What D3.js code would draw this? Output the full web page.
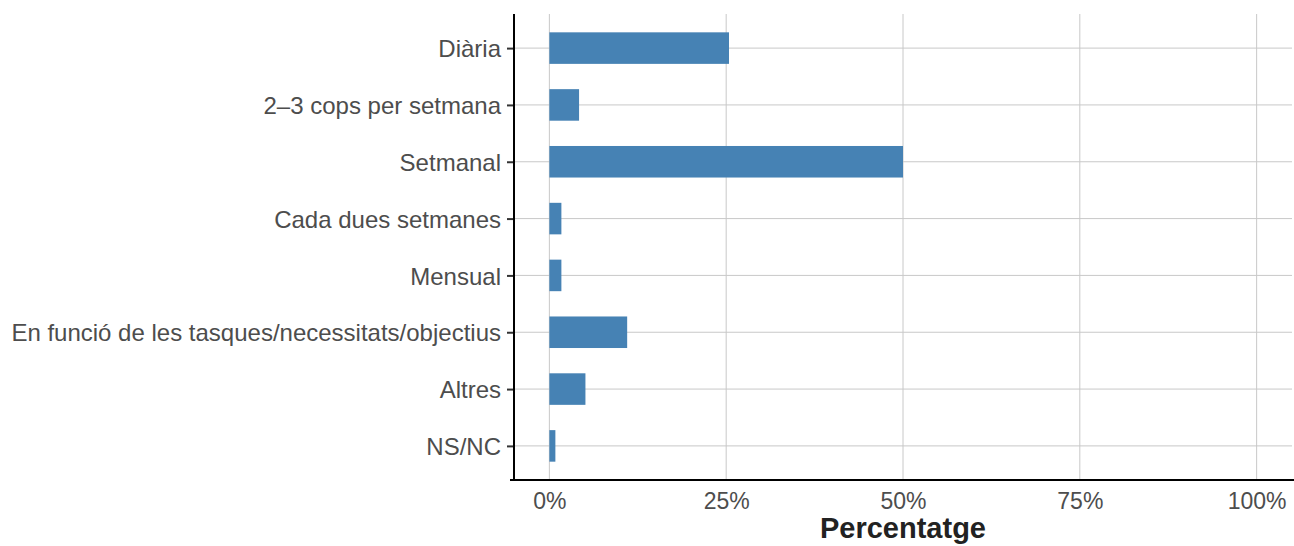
<!DOCTYPE html>
<html>
<head>
<meta charset="utf-8">
<script src="https://cdn.jsdelivr.net/npm/d3@7"></script>
<style>
  body { margin: 0; background: #fff; }
  text { font-family: "Liberation Sans", Arial, sans-serif; }
</style>
</head>
<body>
<div id="chart-area"></div>
<script>

// frequency categories and share of answers (%)
let categories = ["Diària", "2–3 cops per setmana", "Setmanal", "Cada dues setmanes",
	"Mensual", "En funció de les tasques/necessitats/objectius", "Altres", "NS/NC"];
let percentages = [25.4, 4.2, 50.0, 1.7, 1.7, 11.0, 5.1, 0.85];
let xTicks = [0, 25, 50, 75, 100];

let data = categories.map((c, i) => ({category: c, value: percentages[i]}));

let margin = {top: 14, right: 2, bottom: 66, left: 514};
let width = 1294 - margin.left - margin.right;
let height = 546 - margin.top - margin.bottom;

let svg = d3.select("#chart-area").append("svg")
		.attr("width", 1294)
		.attr("height", 546)
	.append("g")
		.attr("transform", "translate(" + margin.left + "," + margin.top + ")");

let x = d3.scaleLinear()
	.domain([-5, 105])
	.range([0, width]);

let y = d3.scalePoint()
	.domain(categories)
	.range([0, height])
	.padding(0.6);

let barHeight = y.step() * 0.555;

// grid lines
svg.append("g")
	.selectAll("line.vgrid")
	.data(xTicks)
	.enter().append("line")
	.attr("class", "vgrid")
	.attr("x1", d => x(d)).attr("x2", d => x(d))
	.attr("y1", 0).attr("y2", height)
	.attr("stroke", "#c8c8c8")
	.attr("stroke-width", 1);

svg.append("g")
	.selectAll("line.hgrid")
	.data(categories)
	.enter().append("line")
	.attr("class", "hgrid")
	.attr("x1", 0).attr("x2", width)
	.attr("y1", d => y(d)).attr("y2", d => y(d))
	.attr("stroke", "#c8c8c8")
	.attr("stroke-width", 1);

// bars
svg.selectAll("rect.bar")
	.data(data)
	.enter().append("rect")
	.attr("class", "bar")
	.attr("x", x(0))
	.attr("y", d => y(d.category) - barHeight / 2)
	.attr("width", d => x(d.value) - x(0))
	.attr("height", barHeight)
	.attr("fill", "#4682b4");

// axes
let yAxis = d3.axisLeft(y).tickSize(7).tickPadding(6);
let yAxisGroup = svg.append("g")
	.attr("class", "y-axis axis")
	.call(yAxis);
yAxisGroup.select(".domain").remove();
yAxisGroup.selectAll(".tick line").attr("stroke", "#333").attr("stroke-width", 2);
yAxisGroup.selectAll(".tick text")
	.attr("fill", "#4d4d4d")
	.attr("dy", "0.36em")
	.style("font-size", "24px");

let xAxis = d3.axisBottom(x).tickValues(xTicks).tickSize(0).tickPadding(13)
	.tickFormat(d => d + "%");
let xAxisGroup = svg.append("g")
	.attr("class", "x-axis axis")
	.attr("transform", "translate(0," + height + ")")
	.call(xAxis);
xAxisGroup.select(".domain").remove();
xAxisGroup.selectAll(".tick text")
	.attr("fill", "#4d4d4d")
	.style("font-size", "23px");

// axis lines
svg.append("line")
	.attr("x1", 0).attr("x2", 0)
	.attr("y1", 0).attr("y2", height + 1)
	.attr("stroke", "#000").attr("stroke-width", 2);
svg.append("line")
	.attr("x1", -4).attr("x2", width + 2)
	.attr("y1", height).attr("y2", height)
	.attr("stroke", "#000").attr("stroke-width", 2);

// x title
svg.append("text")
	.attr("x", x(50))
	.attr("y", height + 58)
	.attr("text-anchor", "middle")
	.attr("font-weight", "bold")
	.attr("fill", "#222")
	.style("font-size", "29px")
	.text("Percentatge");

</script>
</body>
</html>
